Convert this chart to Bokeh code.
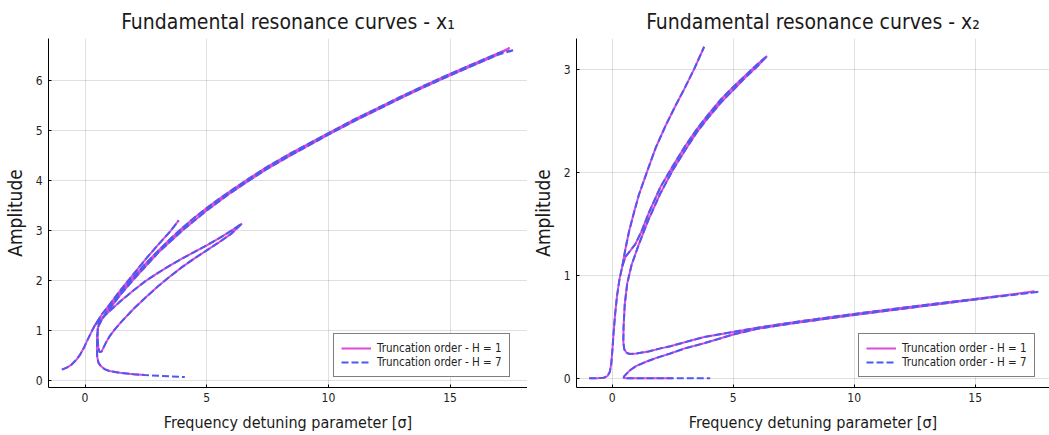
from bokeh.plotting import figure
from bokeh.layouts import row
from bokeh.models import FixedTicker, Range1d
from bokeh.embed import file_html
from bokeh.resources import INLINE

FONT = "DejaVu Sans Condensed"
PINK = "#e048dc"
BLUE = "#5058f0"

LABEL_H1 = "Truncation order - H = 1"
LABEL_H7 = "Truncation order - H = 7"

# ---------------- panel x1 ----------------
x1_primary_sigma = [-0.95, -0.75, -0.55, -0.35, -0.2, -0.05, 0.08, 0.2, 0.32, 0.42, 0.7, 1.0, 1.5, 2.0, 2.5, 3.0, 3.5, 3.85]
x1_primary_amp = [0.21, 0.25, 0.31, 0.41, 0.51, 0.64, 0.78, 0.9, 1.02, 1.11, 1.32, 1.51, 1.83, 2.13, 2.43, 2.71, 2.98, 3.2]

x1_loop_sigma = [0.42, 0.6, 1.0, 1.5, 2.0, 2.5, 3.0, 3.5, 4.0, 4.5, 5.0, 5.5, 6.0, 6.45,
                 6.0, 5.5, 5.0, 4.5, 4.0, 3.5, 3.0, 2.5, 2.0, 1.5, 1.2, 1.0, 0.85, 0.75, 0.68, 0.6, 0.55, 0.52, 0.52, 0.58,
                 0.8, 1.0, 1.5, 2.0, 2.5, 3.0, 3.5, 4.0, 4.5, 5.0, 5.5, 6.0, 6.7, 7.5, 8.5, 10, 11, 12, 13, 14, 15, 16, 17]
x1_loop_amp = [1.11, 1.2, 1.38, 1.6, 1.8, 1.99, 2.15, 2.3, 2.44, 2.57, 2.7, 2.84, 2.99, 3.14,
               2.93, 2.76, 2.6, 2.44, 2.27, 2.08, 1.88, 1.66, 1.43, 1.17, 1.0, 0.87, 0.74, 0.64, 0.57, 0.56, 0.64, 0.82, 1.02, 1.14,
               1.3, 1.47, 1.78, 2.07, 2.34, 2.59, 2.83, 3.05, 3.26, 3.45, 3.63, 3.8, 4.03, 4.28, 4.56, 4.95, 5.21, 5.45, 5.69, 5.92, 6.14, 6.35, 6.56]

x1_top_h1 = (17.45, 6.66)
x1_top_h7 = (17.65, 6.62)

x1_return_sigma = [17, 16, 15, 14, 13, 12, 11, 10, 8.5, 7.5, 6.7, 6.0, 5.0, 4.0, 3.0, 2.0, 1.5, 1.0, 0.7, 0.55, 0.5,
                   0.49, 0.5, 0.55, 0.65, 0.8, 1.0, 1.5, 2.0, 2.45]
x1_return_amp = [6.53, 6.32, 6.11, 5.89, 5.66, 5.42, 5.18, 4.92, 4.52, 4.24, 3.99, 3.76, 3.4, 3.0, 2.55, 2.02, 1.74, 1.42, 1.22, 1.08, 0.9,
                 0.65, 0.47, 0.35, 0.28, 0.22, 0.18, 0.14, 0.115, 0.1]

x1_tail_h7_sigma = [3.0, 3.5, 4.1]
x1_tail_h7_amp = [0.085, 0.072, 0.06]

# ---------------- panel x2 ----------------
x2_primary_sigma = [-0.95, -0.6, -0.35, -0.2, -0.1, -0.04, 0.01, 0.06, 0.12, 0.2, 0.3, 0.42, 0.55, 0.7, 0.9, 1.1, 1.43, 1.8, 2.2, 2.6, 3.0, 3.4, 3.8]
x2_primary_amp = [0.0, 0.0, 0.005, 0.02, 0.06, 0.14, 0.28, 0.45, 0.62, 0.8, 0.96, 1.09, 1.26, 1.43, 1.61, 1.78, 2.0, 2.24, 2.45, 2.64, 2.82, 3.01, 3.22]

x2_loop_sigma = [0.42, 0.55, 0.75, 0.95, 1.2, 1.5, 2.0, 2.5, 3.0, 3.5, 4.0, 4.5, 5.0, 5.5, 6.0, 6.4,
                 6.0, 5.5, 5.0, 4.5, 4.0, 3.5, 3.0, 2.5, 2.0, 1.5, 1.1, 0.8, 0.62, 0.52, 0.47, 0.46, 0.5, 0.6, 0.75,
                 1.0, 1.5, 2.0, 2.4, 3.0, 3.8, 5.0, 6.0, 7.5, 10, 12.5, 15]
x2_loop_amp = [1.09, 1.18, 1.24, 1.3, 1.42, 1.6, 1.86, 2.06, 2.25, 2.42, 2.57, 2.71, 2.83, 2.94, 3.05, 3.13,
               3.03, 2.92, 2.8, 2.68, 2.54, 2.39, 2.21, 2.02, 1.8, 1.54, 1.3, 1.1, 0.92, 0.72, 0.5, 0.35, 0.28, 0.245, 0.235,
               0.24, 0.26, 0.29, 0.31, 0.35, 0.4, 0.45, 0.49, 0.545, 0.625, 0.70, 0.77]

x2_top_h1 = (17.45, 0.845)
x2_top_h7 = (17.65, 0.84)

x2_return_sigma = [15, 12.5, 10, 7.5, 6.0, 5.0, 3.8, 3.0, 2.4, 1.8, 1.4, 1.0, 0.75, 0.6, 0.5, 0.47, 0.55, 1.0, 1.8, 2.5]
x2_return_amp = [0.765, 0.69, 0.615, 0.535, 0.48, 0.425, 0.34, 0.29, 0.24, 0.195, 0.16, 0.12, 0.08, 0.045, 0.02, 0.005, 0.0, 0.0, 0.0, 0.0]

x2_tail_h7_sigma = [3.3, 4.05]
x2_tail_h7_amp = [0.0, 0.0]

x_ticks = [0, 5, 10, 15]
x1_ticks = [0, 1, 2, 3, 4, 5, 6]
x2_ticks = [0, 1, 2, 3]


def panel(title, prim_s, prim_a, loop_s, loop_a, top1, top7, ret_s, ret_a, tail_s, tail_a,
          x_range, y_range, y_ticks, width, border_left, legend_x):
    p = figure(width=width, height=435, output_backend="svg", toolbar_location=None,
               x_range=Range1d(*x_range), y_range=Range1d(*y_range),
               min_border_left=border_left, min_border_right=0, min_border_top=38, min_border_bottom=48)
    p.outline_line_color = None
    p.background_fill_color = "white"
    p.border_fill_color = "white"

    p.title.text = title
    p.title.align = "center"
    p.title.text_font = FONT
    p.title.text_font_size = "21px"
    p.title.text_font_style = "normal"
    p.title.text_color = "#1a1a1a"
    p.title.standoff = 9

    for ax in (p.xaxis[0], p.yaxis[0]):
        ax.axis_line_color = "black"
        ax.axis_line_width = 1
        ax.major_tick_in = 3
        ax.major_tick_out = 0
        ax.minor_tick_line_color = None
        ax.major_label_text_font = FONT
        ax.major_label_text_font_size = "12px"
        ax.major_label_text_color = "#222222"
        ax.axis_label_text_font = FONT
        ax.axis_label_text_font_style = "normal"
        ax.axis_label_text_color = "#1a1a1a"
    p.xaxis.ticker = FixedTicker(ticks=x_ticks)
    p.yaxis.ticker = FixedTicker(ticks=y_ticks)
    p.xaxis.axis_label = "Frequency detuning parameter [σ]"
    p.xaxis.axis_label_text_font_size = "16px"
    p.xaxis.axis_label_standoff = 8
    p.yaxis.axis_label = "Amplitude"
    p.yaxis.axis_label_text_font_size = "19px"
    p.yaxis.axis_label_standoff = 7
    p.xaxis.major_label_standoff = 5
    p.yaxis.major_label_standoff = 6

    for g in (p.xgrid[0], p.ygrid[0]):
        g.grid_line_color = "black"
        g.grid_line_alpha = 0.12
        g.grid_line_width = 1

    xs1 = [prim_s, loop_s + [top1[0]] + ret_s]
    ys1 = [prim_a, loop_a + [top1[1]] + ret_a]
    xs7 = [prim_s, loop_s + [top7[0]] + ret_s + tail_s]
    ys7 = [prim_a, loop_a + [top7[1]] + ret_a + tail_a]

    p.multi_line(xs1, ys1, line_color=PINK, line_width=2, legend_label=LABEL_H1)
    p.multi_line(xs7, ys7, line_color=BLUE, line_width=2, line_dash="7 3", legend_label=LABEL_H7)

    lg = p.legend[0]
    lg.location = (legend_x, 10)
    lg.border_line_color = "black"
    lg.border_line_width = 1
    lg.background_fill_color = "white"
    lg.background_fill_alpha = 1
    lg.label_text_font = FONT
    lg.label_text_font_size = "11.5px"
    lg.label_text_color = "#222222"
    lg.label_height = 12
    lg.glyph_height = 12
    lg.glyph_width = 30
    lg.spacing = 0
    lg.padding = 7
    lg.margin = 0
    lg.label_standoff = 6
    return p


p1 = panel("Fundamental resonance curves - x\u2081",
           x1_primary_sigma, x1_primary_amp, x1_loop_sigma, x1_loop_amp, x1_top_h1, x1_top_h7,
           x1_return_sigma, x1_return_amp, x1_tail_h7_sigma, x1_tail_h7_amp,
           (-1.5, 18.18), (-0.15, 6.85), x1_ticks, 527, 45, 285)
p2 = panel("Fundamental resonance curves - x\u2082",
           x2_primary_sigma, x2_primary_amp, x2_loop_sigma, x2_loop_amp, x2_top_h1, x2_top_h7,
           x2_return_sigma, x2_return_amp, x2_tail_h7_sigma, x2_tail_h7_amp,
           (-1.475, 18.07), (-0.09, 3.3), x2_ticks, 522, 49, 282)

layout = row(p1, p2)
open("out.html", "w").write(file_html(layout, INLINE))
